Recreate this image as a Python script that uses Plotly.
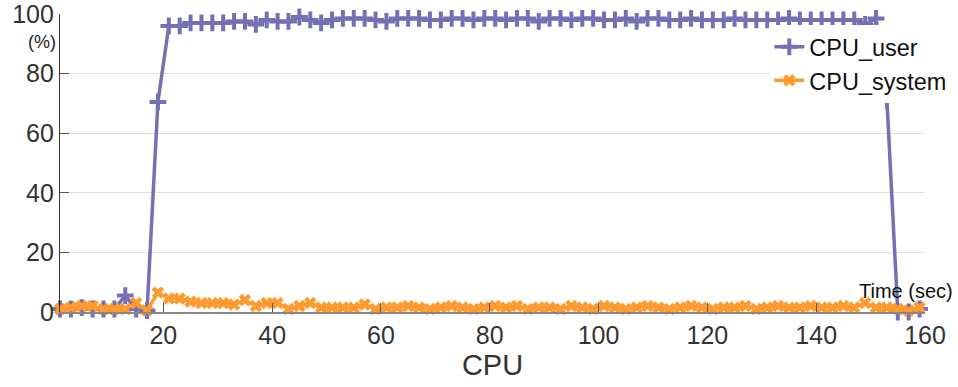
import plotly.graph_objects as go

time_sec = [1, 3, 5, 7, 9, 11, 13, 15, 17, 19,
            21, 23, 25, 27, 29, 31, 33, 35, 37, 39,
            41, 43, 45, 47, 49, 51, 53, 55, 57, 59,
            61, 63, 65, 67, 69, 71, 73, 75, 77, 79,
            81, 83, 85, 87, 89, 91, 93, 95, 97, 99,
            101, 103, 105, 107, 109, 111, 113, 115, 117, 119,
            121, 123, 125, 127, 129, 131, 133, 135, 137, 139,
            141, 143, 145, 147, 149, 151, 153, 155, 157, 159]

cpu_user = [1, 1, 1.5, 1, 1, 1, 5.5, 1, 0.5, 70.5,
            96, 96, 97, 97, 97, 97, 97.5, 97.5, 96.5, 98,
            97.5, 97.5, 99, 98, 97, 98, 98.5, 98.5, 98.5, 98,
            97.5, 98.5, 98.5, 98.5, 98, 98, 98.5, 98.5, 98, 98.5,
            98.5, 98, 98.5, 98.5, 97.5, 98.5, 98.5, 98, 98.5, 98.5,
            98, 98, 98.5, 97.5, 98.5, 98.5, 98, 98, 98.5, 98,
            98, 98, 98.5, 98, 98, 98, 98, 98.5, 98, 98,
            98, 98, 98, 98, 96.5, 98.5, 71, 0, 0, 1]

cpu_system = [1, 1.5, 2, 2, 1, 1, 1, 3, 0.5, 6.5,
              4.5, 4.5, 3.5, 3, 3, 3, 2.5, 4, 2, 3,
              3, 1, 2, 3, 1.5, 1.5, 1.5, 1.5, 2.5, 1,
              1.5, 1.5, 2, 1.5, 1, 1.5, 2, 1.5, 1, 1.5,
              2, 1.5, 2, 1, 1.5, 1.5, 1, 2, 1.5, 1,
              2, 1.5, 1, 1.5, 2, 1.5, 1, 1.5, 2, 1.5,
              1, 1.5, 1.5, 2, 1, 1.5, 2, 1.5, 1.5, 2,
              1.5, 1.5, 2, 1.5, 3, 1.5, 1.5, 1, 0.5, 1.5]

x_ticks = [20, 40, 60, 80, 100, 120, 140, 160]
y_ticks = [0, 20, 40, 60, 80, 100]

PURPLE = "#7570b3"
ORANGE = "#fe9a2e"
FONT = "Liberation Sans"

fig = go.Figure()
fig.add_trace(go.Scatter(
    x=time_sec, y=cpu_user, name="CPU_user", mode="lines+markers",
    line=dict(color=PURPLE, width=3.5),
    marker=dict(symbol="cross-thin", size=12, color=PURPLE,
                line=dict(color=PURPLE, width=4)),
    cliponaxis=False,
))
fig.add_trace(go.Scatter(
    x=time_sec, y=cpu_system, name="CPU_system", mode="lines+markers",
    line=dict(color=ORANGE, width=3.5),
    marker=dict(symbol="x", size=11, color=ORANGE),
    cliponaxis=False,
))

fig.update_layout(
    width=958, height=387,
    margin=dict(l=60, r=33, t=14, b=75, autoexpand=False),
    paper_bgcolor="white", plot_bgcolor="white",
    font=dict(family=FONT, size=24, color="#222"),
    showlegend=True,
    legend=dict(x=0.82, y=0.963, xanchor="left", yanchor="top",
                bgcolor="white", borderwidth=0,
                font=dict(family=FONT, size=23.5, color="#111"),
                itemwidth=30, tracegroupgap=0),
    xaxis=dict(range=[1, 160], tickvals=x_ticks, ticks="inside", ticklen=9,
               tickcolor="#555", showgrid=False, zeroline=False,
               showline=True, linecolor="#888", linewidth=1.5, automargin=False,
               ticklabeloverflow="allow",
               tickfont=dict(size=25, color="#333"),
               title=dict(text="CPU", font=dict(size=29, color="#333"), standoff=4)),
    yaxis=dict(range=[0, 100], tickvals=y_ticks, ticks="inside", ticklen=9,
               tickcolor="#555", showgrid=True, gridcolor="#e0e0e0", gridwidth=1.2,
               zeroline=False, showline=True, linecolor="#333", linewidth=1.2,
               automargin=False, ticklabeloverflow="allow",
               tickfont=dict(size=25, color="#333")),
    annotations=[
        dict(text="(%)", xref="paper", yref="paper", x=-0.002, y=0.906,
             xanchor="right", yanchor="middle", showarrow=False,
             font=dict(family=FONT, size=18, color="#222")),
        dict(text="Time (sec)", xref="paper", yref="paper", x=1.035, y=0.07,
             xanchor="right", yanchor="middle", showarrow=False,
             font=dict(family=FONT, size=20, color="#111")),
    ],
)

fig.write_html("out.html")
